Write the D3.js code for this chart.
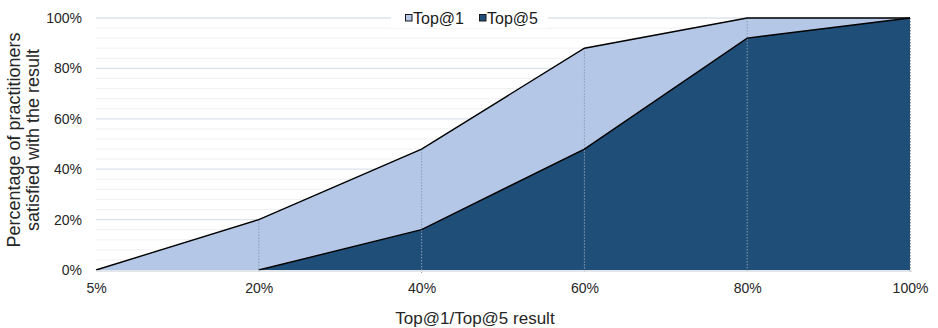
<!DOCTYPE html>
<html>
<head>
<meta charset="utf-8">
<script src="https://cdn.jsdelivr.net/npm/d3@7/dist/d3.min.js"></script>
<style>
  html, body { margin: 0; padding: 0; background: #fff; }
  svg { display: block; font-family: "Liberation Sans", Arial, sans-serif; }
</style>
</head>
<body>
<svg id="chart" width="938" height="328"></svg>
<script>
// Result thresholds along the x axis
const categories = ["5%", "20%", "40%", "60%", "80%", "100%"];
// Share of practitioners satisfied (in %) per threshold
const top1 = [0, 20, 48, 88, 100, 100];
const top5 = [null, 0, 16, 48, 92, 100];
const yTicks = [0, 20, 40, 60, 80, 100];
const seriesNames = ["Top@1", "Top@5"];

const colors = { top1: "#b4c7e7", top5: "#1f4e79" };

const svg = d3.select("#chart");
const margin = { left: 96, right: 28, top: 18, bottom: 58 };
const W = 938, H = 328;
const innerW = W - margin.left - margin.right;
const innerH = H - margin.top - margin.bottom;

const x = d3.scalePoint().domain(categories).range([0, innerW]);
const y = d3.scaleLinear().domain([0, 100]).range([innerH, 0]);

const g = svg.append("g").attr("transform", `translate(${margin.left},${margin.top})`);

// Minor gridlines every 4%
const minor = d3.range(4, 100, 4).filter(v => v % 20 !== 0);
g.append("g").selectAll("line").data(minor).join("line")
  .attr("x1", 0).attr("x2", innerW)
  .attr("y1", d => y(d)).attr("y2", d => y(d))
  .attr("stroke", "#f0f0f0").attr("stroke-width", 1);

// Major gridlines
g.append("g").selectAll("line").data(yTicks.filter(v => v > 0)).join("line")
  .attr("x1", 0).attr("x2", innerW)
  .attr("y1", d => y(d)).attr("y2", d => y(d))
  .attr("stroke", "#dce3ec").attr("stroke-width", 1.3);

const rows = categories.map((c, i) => ({ c, t1: top1[i], t5: top5[i] }));

const area1 = d3.area().x(d => x(d.c)).y0(y(0)).y1(d => y(d.t1));
const area5 = d3.area().defined(d => d.t5 !== null).x(d => x(d.c)).y0(y(0)).y1(d => y(d.t5));
const line1 = d3.line().x(d => x(d.c)).y(d => y(d.t1));
const line5 = d3.line().defined(d => d.t5 !== null).x(d => x(d.c)).y(d => y(d.t5));

g.append("path").datum(rows).attr("d", area1).attr("fill", colors.top1);
g.append("path").datum(rows).attr("d", area5).attr("fill", colors.top5);

// Drop lines from each point down to the baseline
g.append("g").selectAll("line").data(rows.slice(1)).join("line")
  .attr("x1", d => x(d.c)).attr("x2", d => x(d.c))
  .attr("y1", d => y(d.t1)).attr("y2", y(0) + 3)
  .attr("stroke", d => d.c === "100%" ? "#404a58" : "#8a9cb8")
  .attr("stroke-width", 1)
  .attr("stroke-dasharray", "1.5,1.5");

g.append("path").datum(rows).attr("d", line1)
  .attr("fill", "none").attr("stroke", "#000").attr("stroke-width", 1.4);
g.append("path").datum(rows).attr("d", line5)
  .attr("fill", "none").attr("stroke", "#000").attr("stroke-width", 1.4);

// Baseline
g.append("line").attr("x1", 0).attr("x2", innerW + 2)
  .attr("y1", y(0) + 1).attr("y2", y(0) + 1)
  .attr("stroke", "#d9dde3").attr("stroke-width", 1.5);

// X axis labels
const xAxis = g.append("g").attr("transform", `translate(0,${innerH})`)
  .call(d3.axisBottom(x).tickSize(0).tickPadding(13));
xAxis.select(".domain").remove();
xAxis.selectAll("text").attr("font-size", 14).attr("fill", "#262626")
  .attr("font-family", "Liberation Sans, Arial, sans-serif");

// Y axis labels
const yAxis = g.append("g")
  .call(d3.axisLeft(y).tickValues(yTicks).tickSize(0).tickPadding(14).tickFormat(d => d + "%"));
yAxis.select(".domain").remove();
yAxis.selectAll("text").attr("font-size", 14).attr("fill", "#262626")
  .attr("font-family", "Liberation Sans, Arial, sans-serif");

// Axis titles
svg.append("text")
  .attr("x", 475).attr("y", 324)
  .attr("text-anchor", "middle").attr("font-size", 17).attr("fill", "#262626")
  .text("Top@1/Top@5 result");

const yTitle = svg.append("text")
  .attr("transform", `translate(0,140) rotate(-90)`)
  .attr("text-anchor", "middle").attr("font-size", 18).attr("fill", "#262626");
yTitle.append("tspan").attr("x", 0).attr("y", 20).text("Percentage of practitioners");
yTitle.append("tspan").attr("x", 0).attr("y", 39).text("satisfied with the result");

// Legend
const legend = svg.append("g");
legend.append("rect").attr("x", 391).attr("y", 8).attr("width", 157).attr("height", 20).attr("fill", "#fff");
const items = [
  { name: seriesNames[0], color: colors.top1, x: 405 },
  { name: seriesNames[1], color: colors.top5, x: 479 }
];
items.forEach(it => {
  legend.append("rect").attr("x", it.x + 0.5).attr("y", 14.5).attr("width", 6.5).attr("height", 6.5)
    .attr("fill", it.color).attr("stroke", "#1a1a1a").attr("stroke-width", 1);
  legend.append("text").attr("x", it.x + 8).attr("y", 23.5)
    .attr("font-size", 16).attr("fill", "#1a1a1a").text(it.name);
});
</script>
</body>
</html>
